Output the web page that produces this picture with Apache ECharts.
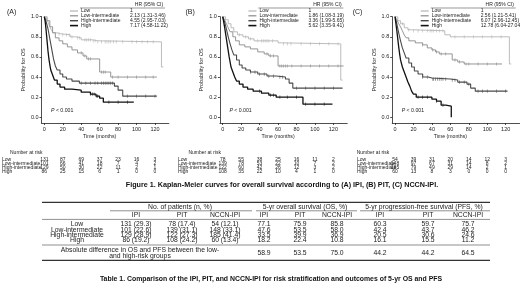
<!DOCTYPE html>
<html>
<head>
<meta charset="utf-8">
<script src="https://cdn.jsdelivr.net/npm/echarts@6/dist/echarts.min.js"></script>
<style>
html, body { margin: 0; padding: 0; background: #fff; }
#main { width: 520px; height: 292px; }
</style>
</head>
<body>
<div id="main"></div>
<script>
// risk groups, ticks
var groups = ['Low', 'Low-intermediate', 'High-intermediate', 'High'];
var panelTags = ['(A)', '(B)', '(C)'];
var timeTicks = [0, 20, 40, 60, 80, 100, 120];
var probTicks = [0, 0.2, 0.4, 0.6, 0.8, 1.0];

// hazard ratios
var hrA = ['1', '2.13 (1.31-3.46)', '4.55 (2.95-7.03)', '7.17 (4.58-11.22)'];
var hrB = ['1', '1.86 (1.08-3.19)', '3.36 (1.99-5.65)', '5.62 (3.35-9.41)'];
var hrC = ['1', '2.56 (1.21-5.41)', '6.07 (2.96-12.45)', '12.78 (6.04-27.04)'];

// number at risk
var riskA = [[131, 87, 69, 37, 23, 16, 3], [101, 66, 41, 18, 7, 4, 2], [129, 50, 30, 22, 11, 2, 1], [86, 25, 15, 6, 1, 0, 0]];
var riskB = [[78, 55, 38, 25, 16, 11, 2], [139, 78, 53, 22, 10, 7, 2], [122, 60, 42, 26, 12, 3, 2], [108, 35, 22, 10, 4, 1, 0]];
var riskC = [[54, 39, 31, 20, 14, 12, 3], [148, 97, 67, 31, 14, 8, 2], [185, 79, 49, 29, 14, 2, 1], [60, 13, 8, 3, 0, 0, 0]];

// KM steps [month, survival] (A = IPI)
var kmA_low = [[0,1],[2,0.98],[4,0.95],[6,0.9],[8,0.86],[10,0.84],[14,0.83],[18,0.82],[28,0.8],[34,0.79],[40,0.77],[52,0.76],[58,0.75],[127,0.5],[129,0.5]];
var kmA_lowint = [[0,1],[3,0.96],[6,0.9],[9,0.84],[12,0.79],[16,0.76],[20,0.73],[25,0.7],[30,0.67],[36,0.64],[42,0.61],[46,0.58],[60,0.45],[72,0.4],[122,0.4]];
var kmA_highint = [[0,1],[2,0.95],[4,0.88],[6,0.78],[8,0.68],[10,0.58],[12,0.51],[14,0.47],[17,0.43],[20,0.4],[24,0.38],[30,0.36],[38,0.34],[76,0.31],[80,0.27],[85,0.21],[122,0.21]];
var kmA_high = [[0,1],[1,0.95],[2,0.86],[3,0.76],[4,0.66],[5,0.58],[6,0.52],[7,0.47],[9,0.42],[11,0.37],[14,0.33],[17,0.3],[22,0.28],[30,0.27],[40,0.25],[50,0.23],[56,0.21],[60,0.19],[64,0.15],[97,0.15]];
// B = PIT
var kmB_low = [[0,1],[3,0.97],[6,0.93],[9,0.89],[12,0.85],[16,0.82],[22,0.8],[28,0.78],[34,0.76],[60,0.74],[64,0.73],[128,0.37],[130,0.37]];
var kmB_lowint = [[0,1],[2,0.97],[4,0.93],[6,0.89],[8,0.85],[11,0.8],[14,0.76],[18,0.72],[24,0.7],[30,0.68],[38,0.65],[45,0.63],[50,0.61],[60,0.51],[131,0.51]];
var kmB_highint = [[0,1],[2,0.95],[4,0.88],[6,0.8],[8,0.73],[10,0.67],[12,0.62],[15,0.57],[18,0.52],[21,0.49],[25,0.47],[30,0.45],[38,0.43],[48,0.41],[58,0.4],[68,0.38],[72,0.34],[76,0.29],[130,0.29]];
var kmB_high = [[0,1],[1,0.95],[2,0.9],[3,0.84],[4,0.78],[5,0.72],[6,0.66],[7,0.6],[8,0.55],[9,0.5],[11,0.45],[13,0.4],[15,0.36],[18,0.33],[22,0.3],[27,0.28],[33,0.26],[42,0.24],[50,0.22],[58,0.2],[87,0.13],[119,0.13]];
// C = NCCN-IPI
var kmC_low = [[0,1],[3,0.96],[6,0.93],[10,0.89],[14,0.87],[18,0.86],[54,0.82],[60,0.8],[124,0.53],[126,0.53]];
var kmC_lowint = [[0,1],[2,0.97],[4,0.93],[6,0.9],[8,0.86],[10,0.82],[12,0.79],[15,0.76],[22,0.74],[30,0.72],[35,0.69],[40,0.67],[44,0.65],[48,0.63],[62,0.57],[68,0.55],[75,0.53],[116,0.53]];
var kmC_highint = [[0,1],[2,0.93],[4,0.84],[6,0.76],[8,0.69],[10,0.64],[12,0.59],[15,0.54],[18,0.5],[21,0.46],[25,0.43],[30,0.4],[36,0.39],[40,0.38],[60,0.37],[68,0.35],[78,0.33],[82,0.29],[87,0.26],[122,0.26]];
var kmC_high = [[0,1],[1,0.93],[2,0.86],[3,0.78],[4,0.7],[5,0.63],[6,0.57],[8,0.5],[10,0.45],[12,0.4],[14,0.35],[16,0.31],[18,0.26],[20,0.23],[23,0.2],[40,0.18],[45,0.16],[50,0.12],[55,0.11],[61,0]];

// censored times
var cenA_low = [16,20,24,27,30,36,38,44,46,48,50,53,55,58,62,66,68,70,72,75,78,85,95,100,106,112,118];
var cenA_lowint = [40,44,48,50,62,64,66,74,80,90,100,110,118];
var cenA_highint = [40,45,50,55,58,62,64,66,68,70,72,74,90,100,110,120];
var cenA_high = [50,52,54,57,58,70,80,90];
var cenB_low = [18,25,30,38,42,44,46,48,50,54,66,70,74,85,95,105,115,125];
var cenB_lowint = [48,52,55,62,64,66,68,70,75,85,95,105,115,125];
var cenB_highint = [30,35,40,45,50,55,62,65,80,90,100,110,120];
var cenB_high = [40,52,55,62,70,80,90,100,110];
var cenC_low = [8,15,20,25,30,35,38,40,42,45,48,52,65,75,85,95,105,115];
var cenC_lowint = [30,41,45,50,55,65,70,77,80,90,100,110];
var cenC_highint = [30,35,41,42,44,46,48,50,52,55,62,65,70,75,80,90,95,100,110,120];
var cenC_high = [25,30,35,45,52];

// table
var colHeads = ['IPI', 'PIT', 'NCCN-IPI'];
var patIPI = ['131 (29.3)', '101 (22.6)', '129 (28.9)', '86 (19.2)'];
var patPIT = ['78 (17.4)', '139 (31.1)', '122 (27.3)', '108 (24.2)'];
var patNCCN = ['54 (12.1)', '148 (33.1)', '185 (41.4)', '60 (13.4)'];
var osIPI = ['77.1', '47.6', '33.5', '18.2'];
var osPIT = ['75.9', '53.5', '39.9', '22.4'];
var osNCCN = ['85.8', '58.0', '36.9', '10.8'];
var pfsIPI = ['60.3', '42.4', '20.5', '16.1'];
var pfsPIT = ['59.7', '43.7', '30.6', '15.5'];
var pfsNCCN = ['75.7', '46.2', '24.6', '11.2'];
var absDiff = ['58.9', '53.5', '75.0', '44.2', '44.2', '64.5'];

var figCaption = 'Figure 1. Kaplan-Meier curves for overall survival according to (A) IPI, (B) PIT, (C) NCCN-IPI.';
var tblCaption = 'Table 1. Comparison of the IPI, PIT, and NCCN-IPI for risk stratification and outcomes of 5-yr OS and PFS';

var FONT = 'Liberation Sans';
var colors = ['#b4b4b4', '#8a8a8a', '#4a4a4a', '#111111'];
var widths = [0.9, 0.9, 1.1, 1.3];

var km = [[kmA_low, kmA_lowint, kmA_highint, kmA_high], [kmB_low, kmB_lowint, kmB_highint, kmB_high], [kmC_low, kmC_lowint, kmC_highint, kmC_high]];
var cen = [[cenA_low, cenA_lowint, cenA_highint, cenA_high], [cenB_low, cenB_lowint, cenB_highint, cenB_high], [cenC_low, cenC_lowint, cenC_highint, cenC_high]];
var hrs = [hrA, hrB, hrC];
var risks = [riskA, riskB, riskC];

// layout
var t0 = [44.3, 222.7, 395];   // pixel of month 0
var sx = 0.9225;               // px per month
var gTop = 16.7, gH = 106.3;

function survAt(steps, t) {
    var v = steps[0][1];
    steps.forEach(function (p) { if (p[0] <= t) v = p[1]; });
    return v;
}

function txt(x, y, s, size, align, extra) {
    var st = { text: s, x: 0, y: 0, fill: '#222', fontSize: size, fontFamily: FONT,
        textAlign: align || 'left', align: align || 'left', textVerticalAlign: 'middle', verticalAlign: 'middle' };
    if (extra) for (var k in extra) st[k] = extra[k];
    return { type: 'text', x: x, y: y, silent: true, style: st };
}
function hline(x1, x2, y, w, c) {
    return { type: 'line', silent: true, shape: { x1: x1, y1: y, x2: x2, y2: y }, style: { stroke: c || '#333', lineWidth: w } };
}

var grids = [], xAxes = [], yAxes = [], series = [], graphics = [];
var lblStyle = { fontSize: 5.5, color: '#222', fontFamily: FONT };

for (var p = 0; p < 3; p++) {
    grids.push({ left: t0[p] - 3 * sx, top: gTop, width: 138 * sx, height: gH });
    xAxes.push({
        gridIndex: p, type: 'value', min: -3, max: 135,
        axisLine: { onZero: false, lineStyle: { color: '#222', width: 0.8 } },
        axisTick: { customValues: timeTicks, length: 2, lineStyle: { color: '#222', width: 0.8 } },
        axisLabel: Object.assign({ customValues: timeTicks, margin: 3 }, lblStyle),
        splitLine: { show: false }
    });
    yAxes.push({
        gridIndex: p, type: 'value', min: -0.0567, max: 1,
        name: 'Probability for OS', nameLocation: 'middle', nameGap: 15,
        nameTextStyle: { fontSize: 5.5, color: '#222', fontFamily: FONT },
        axisLine: { onZero: false, lineStyle: { color: '#222', width: 0.8 } },
        axisTick: { customValues: probTicks, length: 2, lineStyle: { color: '#222', width: 0.8 } },
        axisLabel: Object.assign({ customValues: probTicks, margin: 3, formatter: function (v) { return v.toFixed(1); } }, lblStyle),
        splitLine: { show: false }
    });
    for (var g = 0; g < 4; g++) {
        var steps = km[p][g];
        series.push({
            type: 'line', xAxisIndex: p, yAxisIndex: p, step: 'end', symbol: 'none',
            data: steps, lineStyle: { color: colors[g], width: widths[g] }, silent: true, z: 3 + g
        });
        series.push({
            type: 'scatter', xAxisIndex: p, yAxisIndex: p, symbol: 'rect', symbolSize: [0.7, 3.2],
            itemStyle: { color: colors[g] }, silent: true, z: 3 + g,
            data: cen[p][g].map(function (t) { return [t, survAt(steps, t)]; })
        });
    }

    var off = t0[p] - t0[0];
    // panel tag, legend, HR
    graphics.push(txt(7 + off - (p === 2 ? 5 : 0), 11.7, panelTags[p], 7));
    graphics.push(txt(149 + off, 4.7, 'HR (95% CI)', 5, 'center'));
    graphics.push(hline(80 + off, 165 + off, 8, 0.6, '#555'));
    var legY = [11, 15.8, 20.7, 25.6];
    for (g = 0; g < 4; g++) {
        graphics.push({ type: 'line', silent: true, shape: { x1: 70 + off, y1: legY[g], x2: 78 + off, y2: legY[g] },
            style: { stroke: colors[g], lineWidth: widths[g] + 0.3 } });
        graphics.push(txt(81 + off, legY[g], groups[g], 5));
        graphics.push(txt(130 + off, legY[g], hrs[p][g], 5));
    }
    graphics.push({ type: 'text', x: 51 + off, y: 110.5, silent: true, style: {
        rich: { i: { fontStyle: 'italic', fontSize: 5.2, fontFamily: FONT, fill: '#222' }, n: { fontSize: 5.2, fontFamily: FONT, fill: '#222' } },
        text: '{i|P}{n| < 0.001}', textVerticalAlign: 'middle', verticalAlign: 'middle', fill: '#222' } });
    graphics.push(txt(t0[p] + 60 * sx, 136.5, 'Time (months)', 5.2, 'center'));

    // number at risk
    graphics.push(txt(10 + off - (p === 2 ? 4 : 0), 152.3, 'Number at risk', 5));
    var rowY = [159.5, 163.7, 167.9, 172];
    var labX = [2, 178, 357][p];
    for (g = 0; g < 4; g++) {
        graphics.push(txt(labX, rowY[g], groups[g], 5));
        for (var k = 0; k < timeTicks.length; k++) {
            graphics.push(txt(t0[p] + timeTicks[k] * sx, rowY[g], String(risks[p][g][k]), 5, 'center'));
        }
    }
}

// figure caption
graphics.push(txt(282, 185, figCaption, 7.2, 'center', { fontWeight: 'bold', fill: '#111' }));

// table
var tL = 42, tR = 490;
var colX = [77, 136, 182, 225, 264, 300, 337, 380, 428, 468];
var tcols = [patIPI, patPIT, patNCCN, osIPI, osPIT, osNCCN, pfsIPI, pfsPIT, pfsNCCN];
var rowYt = [224, 229.7, 235.1, 240.4];
var TF = 6.8;
graphics.push(hline(tL, tR, 202.3, 1.2, '#333'));
graphics.push(txt(180, 207.2, 'No. of patients (n, %)', TF, 'center'));
graphics.push(txt(305, 207.2, '5-yr overall survival (OS, %)', TF, 'center'));
graphics.push(txt(424, 207.2, '5-yr progression-free survival (PFS, %)', TF, 'center'));
graphics.push(hline(110, 252, 210.8, 0.6, '#444'));
graphics.push(hline(256, 357, 210.8, 0.6, '#444'));
graphics.push(hline(360, tR, 210.8, 0.6, '#444'));
for (var c = 0; c < 9; c++) {
    graphics.push(txt(colX[c + 1], 215, colHeads[c % 3], TF, 'center'));
}
graphics.push(hline(tL, tR, 219.4, 0.6, '#444'));
for (var r = 0; r < 4; r++) {
    graphics.push(txt(colX[0], rowYt[r], groups[r], TF, 'center'));
    for (c = 0; c < 9; c++) graphics.push(txt(colX[c + 1], rowYt[r], tcols[c][r], TF, 'center'));
}
graphics.push(hline(tL, tR, 245, 0.6, '#444'));
graphics.push(txt(140, 250.2, 'Absolute difference in OS and PFS between the low-', TF, 'center'));
graphics.push(txt(140, 255.8, 'and high-risk groups', TF, 'center'));
for (c = 0; c < 6; c++) graphics.push(txt(colX[c + 4], 252.9, absDiff[c], TF, 'center'));
graphics.push(hline(tL, tR, 260.4, 1.2, '#333'));
graphics.push(txt(271, 279, tblCaption, 6.9, 'center', { fontWeight: 'bold', fill: '#111' }));

var chart = echarts.init(document.getElementById('main'), null, { renderer: 'canvas' });
chart.setOption({
    animation: false,
    backgroundColor: '#fff',
    grid: grids,
    xAxis: xAxes,
    yAxis: yAxes,
    series: series,
    graphic: { elements: graphics }
});
</script>
</body>
</html>
